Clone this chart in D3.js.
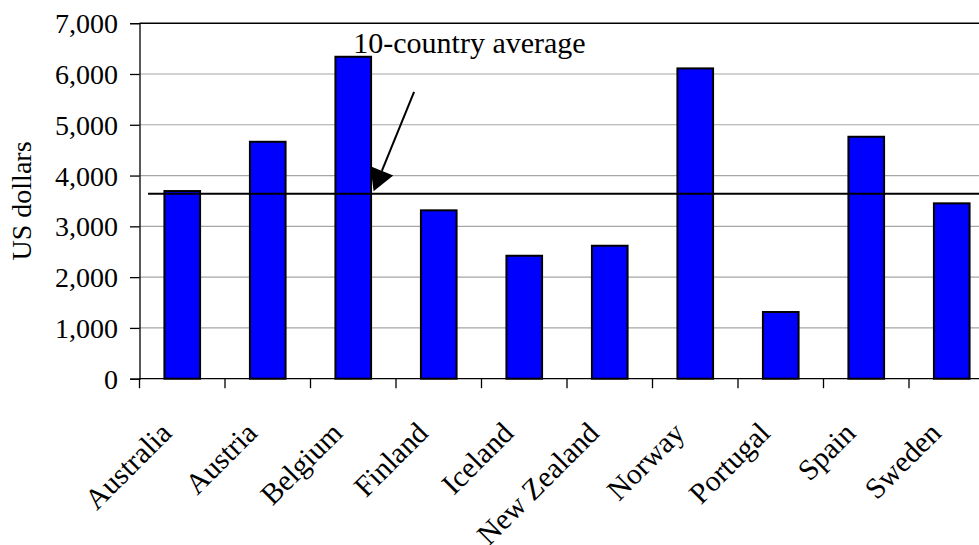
<!DOCTYPE html>
<html>
<head>
<meta charset="utf-8">
<script src="https://cdn.jsdelivr.net/npm/d3@7"></script>
<style>
  html, body { margin: 0; padding: 0; background: #fff; }
  svg { display: block; }
  text { font-family: "Liberation Serif", "Times New Roman", serif; fill: #000; }
</style>
</head>
<body>
<svg id="chart" width="979" height="545"></svg>
<script>
// Spending per country, US dollars
const countries = ["Australia", "Austria", "Belgium", "Finland", "Iceland",
                   "New Zealand", "Norway", "Portugal", "Spain", "Sweden"];
const spending = [3695, 4665, 6339, 3315, 2421, 2618, 6110, 1313, 4764, 3453];
const averageValue = 3640;
const averageLabel = "10-country average";
const yTicks = [0, 1000, 2000, 3000, 4000, 5000, 6000, 7000];
const yTitle = "US dollars";

const W = 979, H = 545;
const plotLeft = 139.5, plotTop = 23.2, plotBottom = 378.7;
const plotRight = plotLeft + 855;   // plot runs past the page edge on the right
const serif = '"Liberation Serif", "Times New Roman", serif';

const svg = d3.select("#chart");

const x = d3.scaleBand()
  .domain(countries)
  .range([plotLeft, plotRight])
  .paddingInner(0.583)
  .paddingOuter(0.2915);

const y = d3.scaleLinear().domain([0, 7000]).range([plotBottom, plotTop]);

const fmt = d3.format(",");

// horizontal gridlines
svg.append("g")
  .selectAll("line")
  .data(yTicks.filter(v => v > 0 && v < 7000))
  .join("line")
  .attr("x1", plotLeft).attr("x2", W)
  .attr("y1", d => y(d)).attr("y2", d => y(d))
  .attr("stroke", "#a6a6a6").attr("stroke-width", 1.2);

// top frame line
svg.append("line")
  .attr("x1", plotLeft).attr("x2", W)
  .attr("y1", y(7000)).attr("y2", y(7000))
  .attr("stroke", "#000").attr("stroke-width", 1.6);

// y axis
const yAxis = d3.axisLeft(y).tickValues(yTicks).tickFormat(fmt).tickSize(9.5).tickPadding(12);
const gy = svg.append("g").attr("transform", `translate(${plotLeft},0)`).call(yAxis);
gy.attr("font-family", null);
gy.select(".domain").attr("stroke", "#000").attr("stroke-width", 1.3);
gy.selectAll(".tick line").attr("stroke", "#000").attr("stroke-width", 1.3);
gy.selectAll(".tick text")
  .style("font-family", serif)
  .style("font-size", "28px").attr("dy", "0.34em");

// bars
svg.append("g")
  .selectAll("rect")
  .data(countries.map((c, i) => ({ c, v: spending[i] })))
  .join("rect")
  .attr("x", d => x(d.c))
  .attr("y", d => y(d.v))
  .attr("width", x.bandwidth())
  .attr("height", d => y(0) - y(d.v))
  .attr("fill", "#0000ff")
  .attr("stroke", "#000").attr("stroke-width", 2);

// x axis baseline and category separators
svg.append("line")
  .attr("x1", plotLeft).attr("x2", W)
  .attr("y1", y(0)).attr("y2", y(0))
  .attr("stroke", "#000").attr("stroke-width", 1.3);
const step = x.step();
svg.append("g")
  .selectAll("line")
  .data(d3.range(countries.length + 1))
  .join("line")
  .attr("x1", i => plotLeft + i * step).attr("x2", i => plotLeft + i * step)
  .attr("y1", y(0)).attr("y2", y(0) + 9.5)
  .attr("stroke", "#000").attr("stroke-width", 1.3);

// category labels, rotated
svg.append("g")
  .selectAll("text")
  .data(countries)
  .join("text")
  .attr("transform", d => `translate(${x(d) + x.bandwidth() / 2 - 9},${y(0) + 56}) rotate(-45)`)
  .attr("text-anchor", "end")
  .style("font-family", serif)
  .style("font-size", "29.5px")
  .text(d => d);

// y axis title
svg.append("text")
  .attr("transform", `translate(31,${(y(0) + y(7000)) / 2}) rotate(-90)`)
  .attr("text-anchor", "middle")
  .style("font-family", serif)
  .style("font-size", "28px")
  .text(yTitle);

// average line
const ya = y(averageValue);
svg.append("line")
  .attr("x1", plotLeft + 0.1 * step).attr("x2", W)
  .attr("y1", ya).attr("y2", ya)
  .attr("stroke", "#000").attr("stroke-width", 2);

// annotation label and arrow
const belgiumCx = x("Belgium") + x.bandwidth() / 2;
svg.append("text")
  .attr("x", belgiumCx)
  .attr("y", 53)
  .style("font-family", serif)
  .style("font-size", "30px")
  .text(averageLabel);

const tip = [x("Belgium") + x.bandwidth() + 2.5, ya - 2.5];
const tail = [tip[0] + 40.5, tip[1] - 99.5];
const dx = tip[0] - tail[0], dy = tip[1] - tail[1];
const len = Math.hypot(dx, dy);
const ux = dx / len, uy = dy / len;
const headLen = 22, headHalf = 12.3;
const bx = tip[0] - ux * headLen, by = tip[1] - uy * headLen;
svg.append("line")
  .attr("x1", tail[0]).attr("y1", tail[1])
  .attr("x2", bx).attr("y2", by)
  .attr("stroke", "#000").attr("stroke-width", 2);
svg.append("path")
  .attr("d", d3.line()([
    tip,
    [bx - uy * headHalf, by + ux * headHalf],
    [bx + uy * headHalf, by - ux * headHalf]
  ]) + "Z")
  .attr("fill", "#000");
</script>
</body>
</html>
